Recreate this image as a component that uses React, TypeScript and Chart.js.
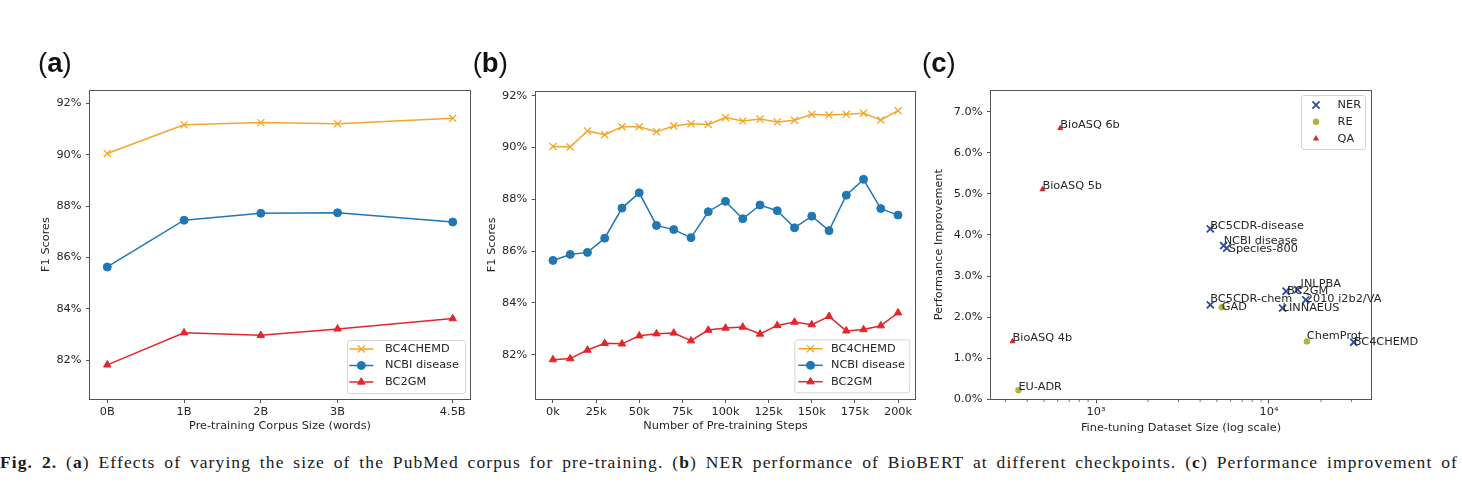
import React, { useEffect, useRef } from 'react';
import { Chart, registerables, Plugin } from 'chart.js';
import { drawPoint } from 'chart.js/helpers';

Chart.register(...registerables);

const FONT = '"DejaVu Sans", sans-serif';
const FONT_SIZE = 11.3;
const TEXT = '#262626';
const SPINE = '#555555';

// (a) F1 scores versus pre-training corpus size (billions of words)
const corpusSizes = [0, 1, 2, 3, 4.5];
const corpusTickLabels = ['0B', '1B', '2B', '3B', '4.5B'];
const corpusBC4CHEMD = [90.05, 91.17, 91.25, 91.21, 91.42];
const corpusNCBI = [85.63, 87.45, 87.72, 87.74, 87.38];
const corpusBC2GM = [81.82, 83.07, 82.97, 83.22, 83.62];

// (b) F1 scores versus number of pre-training steps (thousands)
const stepCounts = [0, 10, 20, 30, 40, 50, 60, 70, 80, 90, 100, 110, 120, 130, 140, 150, 160, 170, 180, 190, 200];
const stepTicks = [0, 25, 50, 75, 100, 125, 150, 175, 200];
const stepTickLabels = ['0k', '25k', '50k', '75k', '100k', '125k', '150k', '175k', '200k'];
const stepBC4CHEMD = [90.04, 90.02, 90.64, 90.49, 90.8, 90.8, 90.61, 90.83, 90.92, 90.89, 91.16, 91.02, 91.1, 90.98, 91.05, 91.28, 91.25, 91.28, 91.32, 91.06, 91.42];
const stepNCBI = [85.64, 85.87, 85.95, 86.5, 87.66, 88.25, 86.99, 86.83, 86.52, 87.52, 87.92, 87.25, 87.78, 87.56, 86.9, 87.35, 86.79, 88.16, 88.77, 87.64, 87.39];
const stepBC2GM = [81.81, 81.85, 82.18, 82.44, 82.42, 82.73, 82.81, 82.84, 82.54, 82.95, 83.03, 83.07, 82.8, 83.13, 83.26, 83.16, 83.48, 82.92, 82.97, 83.12, 83.62];

const scoreTicks = [82, 84, 86, 88, 90, 92];
const seriesNames = ['BC4CHEMD', 'NCBI disease', 'BC2GM'];
const seriesColors = ['#f4a62a', '#1f77b4', '#e3262c'];

// (c) improvement versus fine-tuning dataset size
const nerNames = ['BC5CDR-disease', 'NCBI disease', 'Species-800', 'BC5CDR-chem', 'JNLPBA', 'BC2GM', '2010 i2b2/VA', 'LINNAEUS', 'BC4CHEMD'];
const nerSizes = [4580, 5470, 5700, 4580, 14630, 12560, 16330, 11990, 30900];
const nerGains = [4.15, 3.74, 3.68, 2.3, 2.67, 2.63, 2.42, 2.22, 1.39];
const reNames = ['GAD', 'ChemProt', 'EU-ADR'];
const reSizes = [5335, 16560, 356];
const reGains = [2.24, 1.41, 0.22];
const qaNames = ['BioASQ 4b', 'BioASQ 5b', 'BioASQ 6b'];
const qaSizes = [329, 490, 621];
const qaGains = [1.41, 5.11, 6.6];
const taskNames = ['NER', 'RE', 'QA'];
const taskColors = ['#2b4c9b', '#b3b43a', '#d62728'];
const improvementTicks = [0, 1, 2, 3, 4, 5, 6, 7];
const sizeMajorTicks = [1000, 10000];
const sizeMajorLabels = ['10³', '10⁴'];
const sizeMinorTicks = [300, 400, 500, 600, 700, 800, 900, 2000, 3000, 4000, 5000, 6000, 7000, 8000, 9000, 20000, 30000];

// Small pixel nudges that keep crowded point labels apart.
const labelNudges: Record<string, [number, number]> = {
  'NCBI disease': [0, -1.5],
  'Species-800': [2, 4],
  JNLPBA: [3, -3],
  BC2GM: [1, 2.5],
  'BC5CDR-chem': [0, -2.5],
  GAD: [0, 3],
  LINNAEUS: [0, 2.5],
  '2010 i2b2/VA': [0, 2.4],
  ChemProt: [0, -2.7],
  BC4CHEMD: [0, 2.3],
};

type Box = { padLeft: number; padTop: number; padRight: number; padBottom: number; yWidth: number; xHeight: number };
type LegendEntry = { label: string; color: string; style: string; radius: number; borderWidth: number; line: boolean };
type LegendSpec = {
  left: number; top: number; width: number; height: number;
  rows: number[]; lineX0: number; lineX1: number; markerX: number; textX: number;
  entries: LegendEntry[];
};

const framePlugin: Plugin = {
  id: 'frame',
  afterDatasetsDraw(chart) {
    const { left, top, right, bottom } = chart.chartArea;
    const ctx = chart.ctx;
    ctx.save();
    ctx.strokeStyle = SPINE;
    ctx.lineWidth = 1;
    ctx.strokeRect(Math.round(left) - 0.5, Math.round(top) + 0.5, Math.round(right) - Math.round(left) + 1, Math.round(bottom) - Math.round(top));
    ctx.restore();
  },
};

function legendPlugin(spec: LegendSpec): Plugin {
  return {
    id: 'boxLegend',
    afterDraw(chart) {
      const ctx = chart.ctx;
      ctx.save();
      ctx.beginPath();
      ctx.roundRect(spec.left + 0.5, spec.top + 0.5, spec.width, spec.height, 2.5);
      ctx.fillStyle = 'rgba(255,255,255,0.8)';
      ctx.fill();
      ctx.strokeStyle = '#d4d4d4';
      ctx.lineWidth = 1;
      ctx.stroke();
      spec.entries.forEach((e, i) => {
        const y = spec.rows[i];
        if (e.line) {
          ctx.beginPath();
          ctx.moveTo(spec.lineX0, y);
          ctx.lineTo(spec.lineX1, y);
          ctx.strokeStyle = e.color;
          ctx.lineWidth = 1.5;
          ctx.stroke();
        }
        ctx.fillStyle = e.color;
        ctx.strokeStyle = e.color;
        ctx.lineWidth = e.borderWidth;
        drawPoint(ctx, { pointStyle: e.style as any, radius: e.radius, borderWidth: e.borderWidth, rotation: 0 } as any, spec.markerX, y);
        ctx.fillStyle = TEXT;
        ctx.font = `${FONT_SIZE}px ${FONT}`;
        ctx.textAlign = 'left';
        ctx.textBaseline = 'middle';
        ctx.fillText(e.label, spec.textX, y);
      });
      ctx.restore();
    },
  };
}

const pointLabelPlugin: Plugin = {
  id: 'pointLabels',
  afterDatasetsDraw(chart) {
    const ctx = chart.ctx;
    ctx.save();
    ctx.font = `${FONT_SIZE}px ${FONT}`;
    ctx.fillStyle = TEXT;
    ctx.textAlign = 'left';
    ctx.textBaseline = 'alphabetic';
    chart.data.datasets.forEach((ds, di) => {
      const names = (ds as any).pointNames as string[];
      chart.getDatasetMeta(di).data.forEach((pt, i) => {
        const [dx, dy] = labelNudges[names[i]] || [0, 0];
        ctx.fillText(names[i], pt.x + dx, pt.y + dy);
      });
    });
    ctx.restore();
  },
};

const minorTickPlugin: Plugin = {
  id: 'minorTicks',
  afterDraw(chart) {
    const scale = chart.scales.x;
    const ctx = chart.ctx;
    const y0 = Math.round(chart.chartArea.bottom) + 0.5;
    ctx.save();
    ctx.strokeStyle = SPINE;
    ctx.lineWidth = 0.8;
    sizeMinorTicks.forEach((v) => {
      const x = scale.getPixelForValue(v);
      if (x < chart.chartArea.left || x > chart.chartArea.right) return;
      ctx.beginPath();
      ctx.moveTo(x, y0);
      ctx.lineTo(x, y0 + 2.5);
      ctx.stroke();
    });
    ctx.restore();
  },
};

const tickFont = { family: FONT, size: FONT_SIZE };
const titleFont = { family: FONT, size: FONT_SIZE };
const tickGrid = { display: true, drawOnChartArea: false, drawTicks: true, tickLength: 4, tickColor: SPINE, tickWidth: 1 };

function axisTitle(text: string) {
  return { display: true, text, color: TEXT, font: titleFont, padding: 0 };
}

function lineConfig(p: {
  xs: number[]; series: number[][]; xMin: number; xMax: number; xTicks: number[]; xTickLabels: string[];
  yMin: number; yMax: number; xTitle: string; box: Box; legend: LegendSpec;
}): any {
  const styles = ['crossRot', 'circle', 'triangle'];
  const radii = [5, 4, 4.3];
  const borders = [1.3, 1, 1];
  return {
    type: 'line',
    data: {
      datasets: p.series.map((vals, si) => ({
        label: seriesNames[si],
        data: p.xs.map((x, i) => ({ x, y: vals[i] })),
        borderColor: seriesColors[si],
        backgroundColor: seriesColors[si],
        borderWidth: 1.5,
        pointStyle: styles[si],
        pointRadius: radii[si],
        pointBorderWidth: borders[si],
        pointBorderColor: seriesColors[si],
        pointBackgroundColor: seriesColors[si],
        tension: 0,
        fill: false,
      })),
    },
    options: {
      responsive: false,
      animation: false,
      events: [],
      layout: { autoPadding: false, padding: { left: p.box.padLeft, top: p.box.padTop, right: p.box.padRight, bottom: p.box.padBottom } },
      plugins: { legend: { display: false }, tooltip: { enabled: false } },
      scales: {
        x: {
          type: 'linear',
          min: p.xMin,
          max: p.xMax,
          afterBuildTicks: (s: any) => { s.ticks = p.xTicks.map((v) => ({ value: v })); },
          afterFit: (s: any) => { s.height = p.box.xHeight; },
          ticks: { font: tickFont, color: TEXT, padding: 2, maxRotation: 0, autoSkip: false, callback: (_v: any, i: number) => p.xTickLabels[i] },
          grid: tickGrid,
          border: { display: false },
          title: axisTitle(p.xTitle),
        },
        y: {
          type: 'linear',
          min: p.yMin,
          max: p.yMax,
          afterBuildTicks: (s: any) => { s.ticks = scoreTicks.map((v) => ({ value: v })); },
          afterFit: (s: any) => { s.width = p.box.yWidth; },
          ticks: { font: tickFont, color: TEXT, padding: 4.5, callback: (v: any) => `${v}%` },
          grid: tickGrid,
          border: { display: false },
          title: axisTitle('F1 Scores'),
        },
      },
    },
    plugins: [framePlugin, legendPlugin(p.legend)],
  };
}

function lineLegend(left: number, top: number, width: number, height: number, rows: number[], lineX0: number, lineX1: number, textX: number): LegendSpec {
  const styles = ['crossRot', 'circle', 'triangle'];
  const radii = [5, 4, 4.3];
  const borders = [1.3, 1, 1];
  return {
    left, top, width, height, rows, lineX0, lineX1, markerX: (lineX0 + lineX1) / 2, textX,
    entries: seriesNames.map((label, i) => ({ label, color: seriesColors[i], style: styles[i], radius: radii[i], borderWidth: borders[i], line: true })),
  };
}

function scatterConfig(): any {
  const groups = [
    { names: nerNames, sizes: nerSizes, gains: nerGains, style: 'crossRot', radius: 5, border: 1.8 },
    { names: reNames, sizes: reSizes, gains: reGains, style: 'circle', radius: 3.2, border: 0 },
    { names: qaNames, sizes: qaSizes, gains: qaGains, style: 'triangle', radius: 3.6, border: 0 },
  ];
  const legend: LegendSpec = {
    left: 376, top: 95, width: 64, height: 54,
    rows: [105, 121.7, 138.7], lineX0: 0, lineX1: 0, markerX: 391, textX: 412.6,
    entries: taskNames.map((label, i) => ({ label, color: taskColors[i], style: groups[i].style, radius: groups[i].radius, borderWidth: groups[i].border, line: false })),
  };
  return {
    type: 'scatter',
    data: {
      datasets: groups.map((g, gi) => ({
        label: taskNames[gi],
        pointNames: g.names,
        data: g.sizes.map((x, i) => ({ x, y: g.gains[i] })),
        pointStyle: g.style,
        pointRadius: g.radius,
        pointBorderWidth: g.border,
        pointBorderColor: taskColors[gi],
        pointBackgroundColor: taskColors[gi],
        borderColor: taskColors[gi],
        backgroundColor: taskColors[gi],
      })),
    },
    options: {
      responsive: false,
      animation: false,
      events: [],
      layout: { autoPadding: false, padding: { left: 6.8, top: 90, right: 91, bottom: 10.4 } },
      plugins: { legend: { display: false }, tooltip: { enabled: false } },
      scales: {
        x: {
          type: 'logarithmic',
          min: 247,
          max: 38900,
          afterBuildTicks: (s: any) => { s.ticks = sizeMajorTicks.map((v) => ({ value: v, major: true })); },
          afterFit: (s: any) => { s.height = 35.3; },
          ticks: { font: tickFont, color: TEXT, padding: 2, maxRotation: 0, autoSkip: false, callback: (_v: any, i: number) => sizeMajorLabels[i] },
          grid: tickGrid,
          border: { display: false },
          title: axisTitle('Fine-tuning Dataset Size (log scale)'),
        },
        y: {
          type: 'linear',
          min: 0,
          max: 7.53,
          afterBuildTicks: (s: any) => { s.ticks = improvementTicks.map((v) => ({ value: v })); },
          afterFit: (s: any) => { s.width = 59.2; },
          ticks: { font: tickFont, color: TEXT, padding: 4.5, callback: (v: any) => `${Number(v).toFixed(1)}%` },
          grid: tickGrid,
          border: { display: false },
          title: axisTitle('Performance Improvement'),
        },
      },
    },
    plugins: [framePlugin, minorTickPlugin, pointLabelPlugin, legendPlugin(legend)],
  };
}

function useChart(make: () => any) {
  const ref = useRef<HTMLCanvasElement>(null);
  useEffect(() => {
    const chart = new Chart(ref.current as HTMLCanvasElement, make());
    return () => chart.destroy();
  }, []);
  return ref;
}

function PanelTag({ letter, left }: { letter: string; left: number }) {
  return (
    <div style={{ position: 'absolute', left, top: 48.5, fontFamily: '"Liberation Sans", Arial, sans-serif', fontSize: 27.5, lineHeight: '27px', color: '#111', whiteSpace: 'nowrap' }}>
      (<b>{letter}</b>)
    </div>
  );
}

export default function App() {
  const aRef = useChart(() =>
    lineConfig({
      xs: corpusSizes, series: [corpusBC4CHEMD, corpusNCBI, corpusBC2GM],
      xMin: -0.225, xMax: 4.725, xTicks: corpusSizes, xTickLabels: corpusTickLabels,
      yMin: 80.49, yMax: 92.52, xTitle: 'Pre-training Corpus Size (words)',
      box: { padLeft: 39.4, padTop: 90, padRight: 10, padBottom: 11.7, yWidth: 50.6, xHeight: 34.3 },
      legend: lineLegend(347, 340, 118, 53, [349, 365.5, 382], 349.3, 373.3, 385),
    })
  );
  const bRef = useChart(() =>
    lineConfig({
      xs: stepCounts, series: [stepBC4CHEMD, stepNCBI, stepBC2GM],
      xMin: -10, xMax: 210, xTicks: stepTicks, xTickLabels: stepTickLabels,
      yMin: 80.29, yMax: 92.2, xTitle: 'Number of Pre-training Steps',
      box: { padLeft: 5.1, padTop: 90.5, padRight: 9.7, padBottom: 11.7, yWidth: 50.6, xHeight: 34.3 },
      legend: lineLegend(314.3, 339.3, 115, 53, [348.7, 365.3, 381.7], 318.3, 342.7, 351),
    })
  );
  const cRef = useChart(scatterConfig);

  return (
    <div style={{ position: 'fixed', left: 0, top: 0, width: 1462, height: 489, background: '#fff', overflow: 'hidden' }}>
      <canvas ref={aRef} width={480} height={445} style={{ position: 'absolute', left: 0, top: 0 }} />
      <canvas ref={bRef} width={445} height={445} style={{ position: 'absolute', left: 480, top: 0 }} />
      <canvas ref={cRef} width={537} height={445} style={{ position: 'absolute', left: 925, top: 0 }} />
      <PanelTag letter="a" left={38} />
      <PanelTag letter="b" left={472.7} />
      <PanelTag letter="c" left={922} />
      <div
        style={{
          position: 'absolute', left: 0, top: 451, width: 1458, fontFamily: '"Liberation Serif", "Times New Roman", serif',
          fontSize: 17.5, lineHeight: '22px', letterSpacing: '1.1px', color: '#1a1a1a', whiteSpace: 'nowrap', textAlign: 'justify', textAlignLast: 'justify',
        }}
      >
        <b>Fig. 2.</b> (<b>a</b>) Effects of varying the size of the PubMed corpus for pre-training. (<b>b</b>) NER performance of BioBERT at different checkpoints. (<b>c</b>) Performance improvement of
      </div>
    </div>
  );
}
